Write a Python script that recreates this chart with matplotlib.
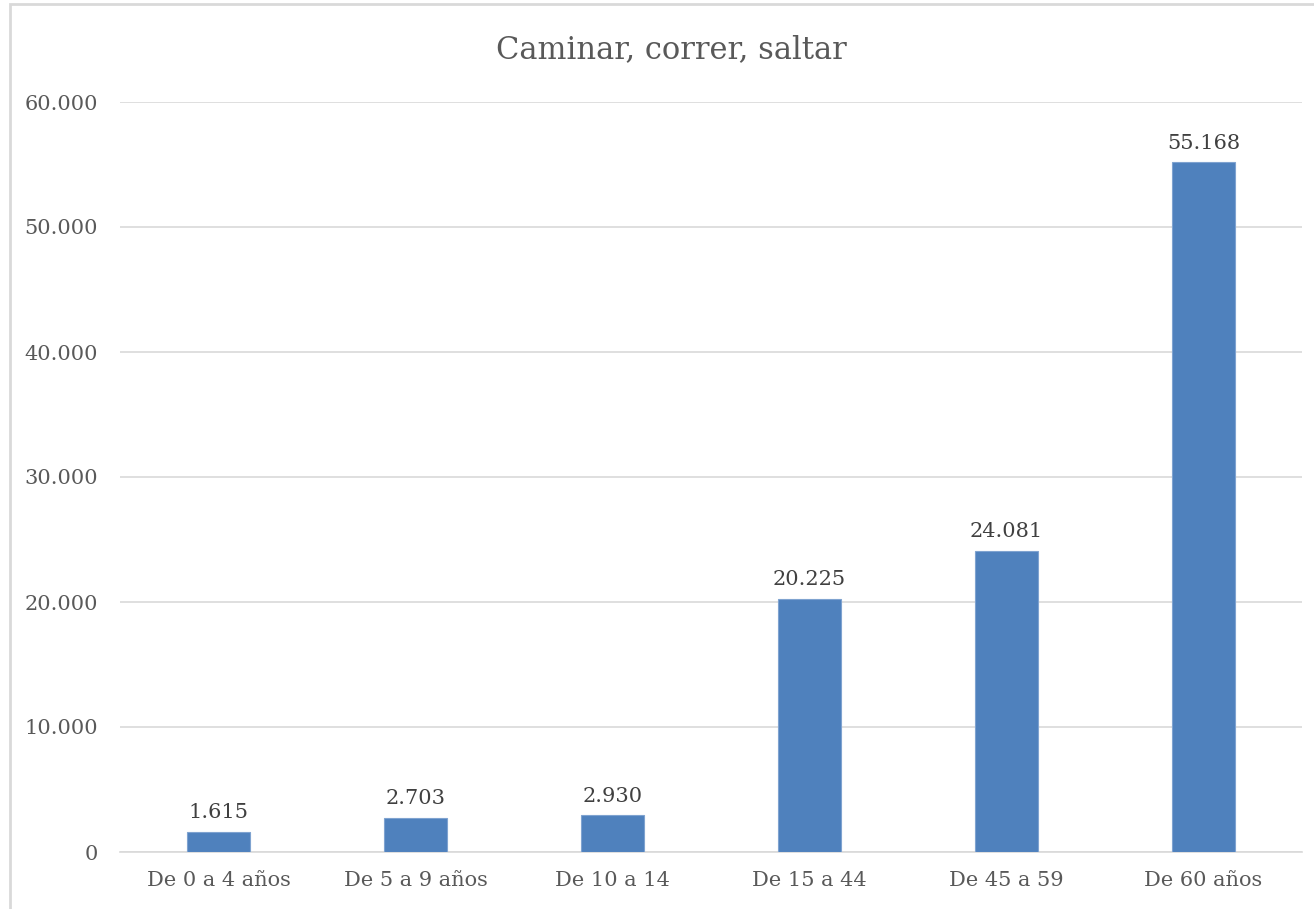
import matplotlib
matplotlib.use("Agg")
import matplotlib.pyplot as plt
from matplotlib.patches import Rectangle
from matplotlib.ticker import FuncFormatter, MultipleLocator

categories = ["De 0 a 4 años", "De 5 a 9 años", "De 10 a 14", "De 15 a 44", "De 45 a 59", "De 60 años"]
values = [1615, 2703, 2930, 20225, 24081, 55168]
title = "Caminar, correr, saltar"

def fmt(v):
    return f"{int(round(v)):,}".replace(",", ".")

plt.rcParams['font.family'] = ['DejaVu Serif']
fig = plt.figure(figsize=(13.14, 9.09), dpi=100)
fig.patches.append(Rectangle((10/1314, -0.1), 1.2, 1.1 - 4/909, transform=fig.transFigure,
                             fill=False, edgecolor="#D9D9D9", linewidth=2))
ax = fig.add_axes([120/1314, 1 - 852/909, 1182/1314, 750/909])
x = list(range(len(categories)))
ax.bar(x, values, width=0.315, color="#4F81BD", edgecolor="#7FA3D0", linewidth=0.8, zorder=3)
for xi, v in zip(x, values):
    ax.annotate(fmt(v), (xi, v), xytext=(0, 7), textcoords="offset points",
                ha="center", va="bottom", fontsize=15, color="#404040")
ax.set_xlim(-0.5, len(categories) - 0.5)
ax.set_ylim(0, 60000)
ax.yaxis.set_major_locator(MultipleLocator(10000))
ax.yaxis.set_major_formatter(FuncFormatter(lambda v, p: fmt(v)))
ax.set_xticks(x)
ax.set_xticklabels(categories)
ax.grid(axis="y", color="#D9D9D9", linewidth=1.2, zorder=0)
for s in ["top", "right", "left"]:
    ax.spines[s].set_visible(False)
ax.spines["bottom"].set_color("#D9D9D9")
ax.spines["bottom"].set_linewidth(1.2)
ax.tick_params(axis="both", length=0, labelsize=15, labelcolor="#595959")
ax.tick_params(axis="y", pad=16)
ax.tick_params(axis="x", pad=14)
fig.text(671/1314, 1 - 50/909, title, ha="center", va="center", fontsize=22, color="#595959")
fig.savefig("out.png", dpi=100, facecolor="white")
